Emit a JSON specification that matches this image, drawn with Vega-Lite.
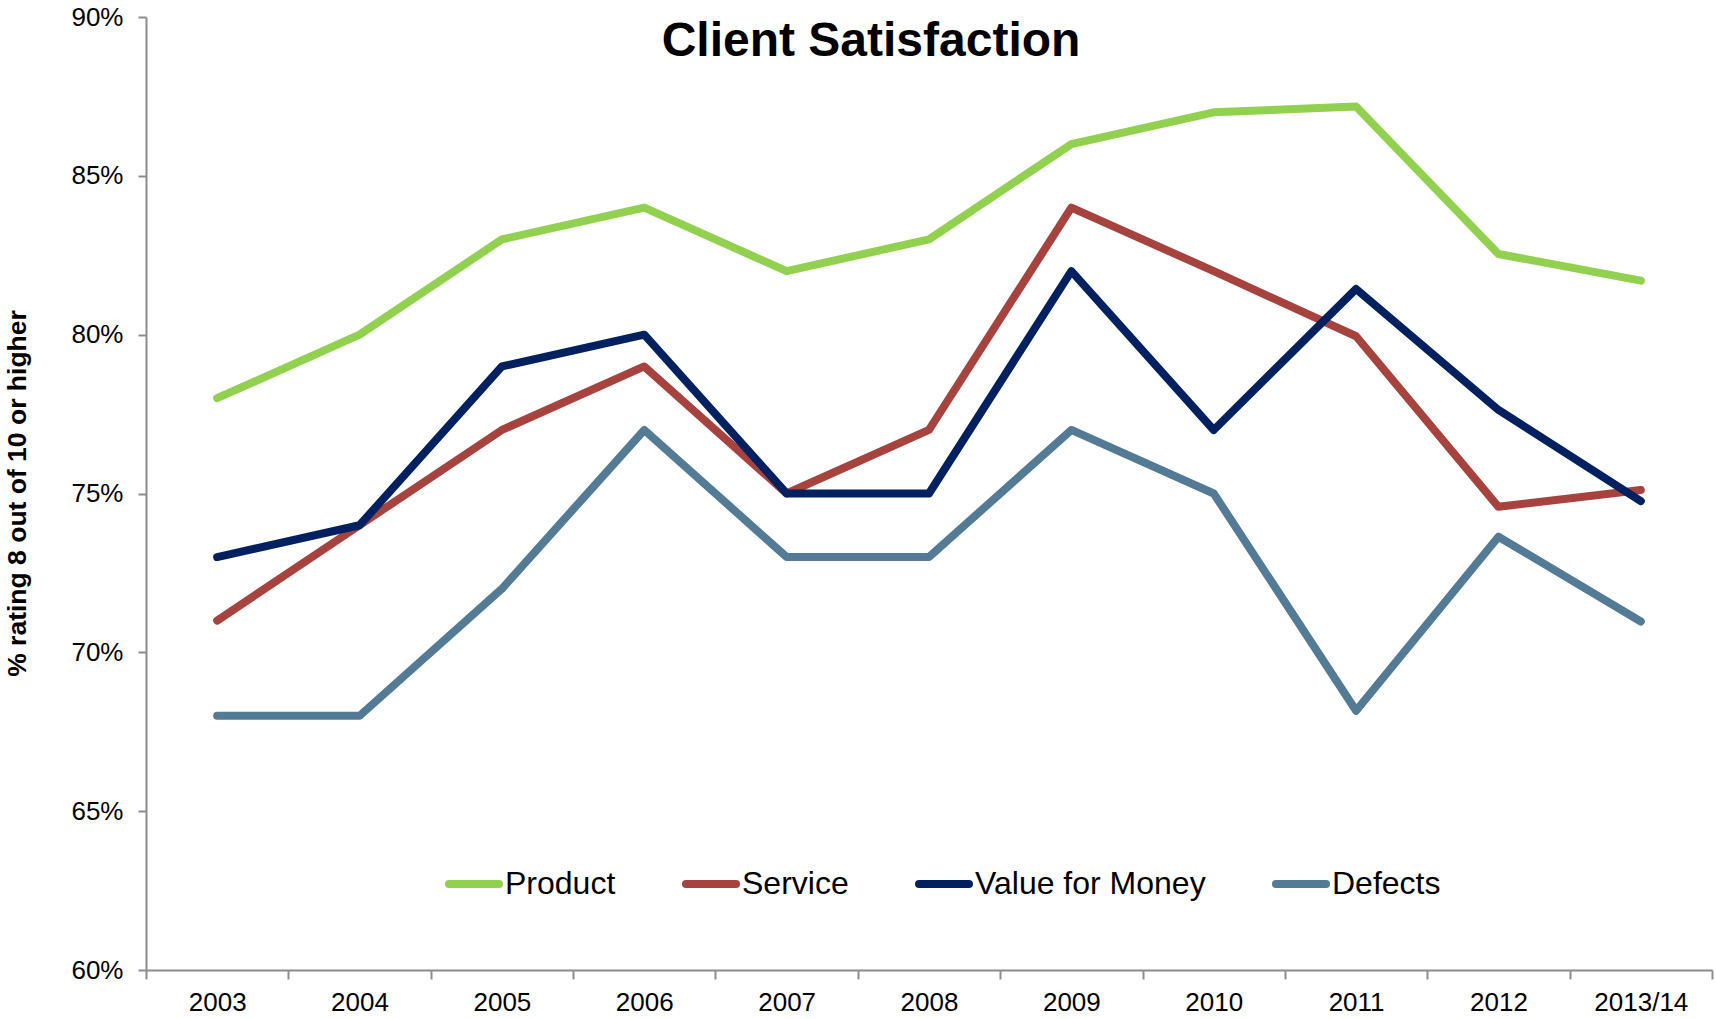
{
  "$schema": "https://vega.github.io/schema/vega-lite/v6.json",
  "width": 1566,
  "height": 953,
  "autosize": {"type": "none"},
  "padding": {"left": 146, "top": 17, "right": 4, "bottom": 49},
  "background": "white",
  "config": {"view": {"stroke": null}, "font": "Liberation Sans"},
  "title": {
    "text": "Client Satisfaction",
    "fontSize": 48,
    "font": "Liberation Sans",
    "fontWeight": "bold",
    "color": "black",
    "anchor": "middle",
    "frame": "group",
    "offset": 0,
    "dx": -58,
    "dy": 62
  },
  "data": {
    "values": [
      {"period": "2003", "measure": "Product", "share": 0.78},
      {"period": "2004", "measure": "Product", "share": 0.80},
      {"period": "2005", "measure": "Product", "share": 0.83},
      {"period": "2006", "measure": "Product", "share": 0.84},
      {"period": "2007", "measure": "Product", "share": 0.82},
      {"period": "2008", "measure": "Product", "share": 0.83},
      {"period": "2009", "measure": "Product", "share": 0.86},
      {"period": "2010", "measure": "Product", "share": 0.87},
      {"period": "2011", "measure": "Product", "share": 0.8718},
      {"period": "2012", "measure": "Product", "share": 0.8254},
      {"period": "2013/14", "measure": "Product", "share": 0.8170},
      {"period": "2003", "measure": "Service", "share": 0.71},
      {"period": "2004", "measure": "Service", "share": 0.74},
      {"period": "2005", "measure": "Service", "share": 0.77},
      {"period": "2006", "measure": "Service", "share": 0.79},
      {"period": "2007", "measure": "Service", "share": 0.75},
      {"period": "2008", "measure": "Service", "share": 0.77},
      {"period": "2009", "measure": "Service", "share": 0.84},
      {"period": "2010", "measure": "Service", "share": 0.82},
      {"period": "2011", "measure": "Service", "share": 0.7995},
      {"period": "2012", "measure": "Service", "share": 0.7458},
      {"period": "2013/14", "measure": "Service", "share": 0.7511},
      {"period": "2003", "measure": "Value for Money", "share": 0.73},
      {"period": "2004", "measure": "Value for Money", "share": 0.74},
      {"period": "2005", "measure": "Value for Money", "share": 0.79},
      {"period": "2006", "measure": "Value for Money", "share": 0.80},
      {"period": "2007", "measure": "Value for Money", "share": 0.75},
      {"period": "2008", "measure": "Value for Money", "share": 0.75},
      {"period": "2009", "measure": "Value for Money", "share": 0.82},
      {"period": "2010", "measure": "Value for Money", "share": 0.77},
      {"period": "2011", "measure": "Value for Money", "share": 0.8144},
      {"period": "2012", "measure": "Value for Money", "share": 0.7763},
      {"period": "2013/14", "measure": "Value for Money", "share": 0.7476},
      {"period": "2003", "measure": "Defects", "share": 0.68},
      {"period": "2004", "measure": "Defects", "share": 0.68},
      {"period": "2005", "measure": "Defects", "share": 0.72},
      {"period": "2006", "measure": "Defects", "share": 0.77},
      {"period": "2007", "measure": "Defects", "share": 0.73},
      {"period": "2008", "measure": "Defects", "share": 0.73},
      {"period": "2009", "measure": "Defects", "share": 0.77},
      {"period": "2010", "measure": "Defects", "share": 0.75},
      {"period": "2011", "measure": "Defects", "share": 0.6816},
      {"period": "2012", "measure": "Defects", "share": 0.7364},
      {"period": "2013/14", "measure": "Defects", "share": 0.7097}
    ]
  },
  "mark": {"type": "line", "strokeWidth": 8, "strokeCap": "round", "strokeJoin": "round"},
  "encoding": {
    "x": {
      "field": "period",
      "type": "nominal",
      "sort": null,
      "scale": {"type": "band", "paddingInner": 0, "paddingOuter": 0},
      "axis": {
        "title": null,
        "labelAngle": 0,
        "tickBand": "extent",
        "tickSize": 9,
        "tickWidth": 2,
        "tickColor": "#8c8c8c",
        "domainColor": "#8c8c8c",
        "domainWidth": 2,
        "labelPadding": 10,
        "labelFontSize": 26,
        "labelFont": "Liberation Sans",
        "labelColor": "black",
        "grid": false
      }
    },
    "y": {
      "field": "share",
      "type": "quantitative",
      "scale": {"domain": [0.6, 0.9], "zero": false, "nice": false},
      "axis": {
        "title": "% rating 8 out of 10 or higher",
        "titleFontSize": 26.5,
        "titleFont": "Liberation Sans",
        "titleFontWeight": "bold",
        "titleColor": "black",
        "titleAngle": -90,
        "titleBaseline": "bottom",
        "titleX": -115,
        "titleY": 476,
        "format": ".0%",
        "values": [0.6, 0.65, 0.7, 0.75, 0.8, 0.85, 0.9],
        "labelFontSize": 26,
        "labelFont": "Liberation Sans",
        "labelColor": "black",
        "labelPadding": 15,
        "tickSize": 8,
        "tickWidth": 2,
        "tickColor": "#8c8c8c",
        "domainColor": "#8c8c8c",
        "domainWidth": 2,
        "grid": false
      }
    },
    "color": {
      "field": "measure",
      "type": "nominal",
      "sort": null,
      "scale": {
        "domain": ["Product", "Service", "Value for Money", "Defects"],
        "range": ["#92D050", "#A6433F", "#002060", "#547B95"]
      },
      "legend": {
        "orient": "none",
        "legendX": 299,
        "legendY": 838,
        "direction": "horizontal",
        "title": null,
        "symbolType": "stroke",
        "symbolSize": 2500,
        "symbolStrokeWidth": 8,
        "symbolOpacity": 1,
        "labelFontSize": 32,
        "labelFont": "Liberation Sans",
        "labelColor": "black",
        "labelOffset": 2,
        "labelLimit": 400,
        "columnPadding": 54,
        "padding": 0,
        "encode": {"symbols": {"update": {"strokeCap": {"value": "round"}}}}
      }
    }
  }
}
